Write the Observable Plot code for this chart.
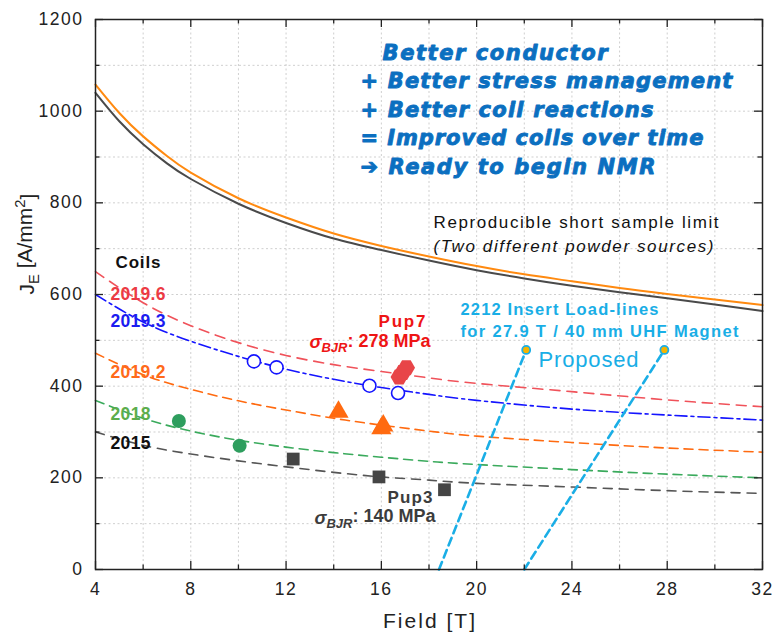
<!DOCTYPE html>
<html><head><meta charset="utf-8">
<script src="https://cdn.jsdelivr.net/npm/d3@7"></script>
<script src="https://cdn.jsdelivr.net/npm/@observablehq/plot@0.6"></script>
<style>body{margin:0;background:#fff}#chart{width:779px;height:632px}</style>
</head><body><div id="chart"></div>
<script>
// ---- data ----
const sslField = [4,5,6,7,8,10,12,14,16,18,20,22,24,26,28,30,32];
const sslOrange = [1058,996,945,902,866,810,768,733,706,683,662,644,629,614,601,589,577];
const sslGray   = [1040,978,928,886,852,798,756,722,697,674,653,635,619,605,592,578,564];

const fitField = [4,6,8,10,12,14,16,18,20,24,28,32];
const fit2019_6 = [650,582,532,495,467,447,432,418,406,388,370,355];
const fit2019_3 = [600,540,498,465,437,415,397,382,369,350,337,326];
const fit2019_2 = [472,425,393,368,348,330,315,302,291,277,265,256];
const fit2018   = [369,330,302,282,267,255,245,236,229,218,208,200];
const fit2015   = [300,271,252,237,224,212,202,195,188,180,172,166];

const coil2019_6_B = [16.75,16.9,17.05], coil2019_6_J = [420,430,440];
const coil2019_3_B = [10.65,11.6,15.5,16.7], coil2019_3_J = [454,441,401,385];
const coil2019_2_B = [14.2,16.0,16.08], coil2019_2_J = [344,308,314];
const coil2018_B = [7.5,10.05], coil2018_J = [324,270];
const coil2015_B = [12.3,15.9,18.65], coil2015_J = [241,202,174];

const loadLine1_B = [18.42,22.08], loadLine1_J = [0,479];
const loadLine2_B = [22.0,27.88], loadLine2_J = [0,479];

const xTickLabels = [4,8,12,16,20,24,28,32];
const xMinor = [6,10,14,18,22,26,30];
const yTickLabels = [0,200,400,600,800,1000,1200];
const yMinor = [100,300,500,700,900,1100];

const coilNames = ["2019.6","2019.3","2019.2","2018","2015"];
const claims = ["Better conductor","+ Better stress management","+ Better coil reactions","= Improved coils over time","\u2794 Ready to begin NMR"];

// ---- helpers ----
const pts = (Bs, Js, id) => Bs.map((b, i) => ({B: b, J: Js[i], id}));
const sans = "'Liberation Sans', Arial, sans-serif";

const loadData = [...pts(loadLine1_B, loadLine1_J, 1), ...pts(loadLine2_B, loadLine2_J, 2)];
const loadTops = loadData.filter(d => d.J > 0);

const coilLabelData = [
  {t: coilNames[0], B: 4.63, J: 588, c: "#ec3b44"},
  {t: coilNames[1], B: 4.63, J: 529, c: "#1c1cf0"},
  {t: coilNames[2], B: 4.63, J: 417, c: "#ff6a1a"},
  {t: coilNames[3], B: 4.63, J: 326, c: "#5cad4c"},
  {t: coilNames[4], B: 4.63, J: 264, c: "#111"}
];
const claimData = claims.map((t, i) => ({t, B: i === 0 ? 16.05 : 15.12, J: [1112,1050,988,926,864][i]}));

const widths = {
  "Better conductor": 225, "+ Better stress management": 372, "+ Better coil reactions": 293,
  "= Improved coils over time": 343, "\u2794 Ready to begin NMR": 295,
  "Reproducible short sample limit": 285, "(Two different powder sources)": 280,
  "2212 Insert Load-lines": 198, "for 27.9 T / 40 mm UHF Magnet": 278, "Proposed": 100,
  "Coils": 45, "2019.6": 55, "2019.3": 55, "2019.2": 55, "2018": 40, "2015": 40,
  "Pup7": 47, "Pup3": 45, "Field [T]": 92
};

const inner = {w: 779 - 95 - 17, h: 632 - 19 - 63};

const plot = Plot.plot({
  width: 779, height: 632,
  marginLeft: 95, marginRight: 17, marginTop: 19, marginBottom: 63,
  x: {domain: [4, 32], axis: null},
  y: {domain: [0, 1200], axis: null},
  style: {fontFamily: sans, background: "white", color: "#222"},
  marks: [
    // grid
    Plot.ruleX([...xMinor, ...xTickLabels.slice(1, -1)], {x: d => d, stroke: "#cfcfcf", strokeDasharray: "2,2.5"}),
    Plot.ruleY([...yMinor, ...yTickLabels.slice(1, -1)], {y: d => d, stroke: "#cfcfcf", strokeDasharray: "2,2.5"}),
    // short sample limits
    Plot.line(pts(sslField, sslGray), {x: "B", y: "J", stroke: "#4a4a4a", strokeWidth: 2, curve: "natural"}),
    Plot.line(pts(sslField, sslOrange), {x: "B", y: "J", stroke: "#ff8a10", strokeWidth: 2, curve: "natural"}),
    // coil fits
    Plot.line(pts(fitField, fit2015), {x: "B", y: "J", stroke: "#555", strokeWidth: 1.6, strokeDasharray: "9,7", curve: "natural"}),
    Plot.line(pts(fitField, fit2018), {x: "B", y: "J", stroke: "#3aaa5c", strokeWidth: 1.6, strokeDasharray: "9,6", curve: "natural"}),
    Plot.line(pts(fitField, fit2019_2), {x: "B", y: "J", stroke: "#ff6a10", strokeWidth: 1.6, strokeDasharray: "9,6", curve: "natural"}),
    Plot.line(pts(fitField, fit2019_3), {x: "B", y: "J", stroke: "#1414ff", strokeWidth: 1.6, strokeDasharray: "12,4,3,4", curve: "natural"}),
    Plot.line(pts(fitField, fit2019_6), {x: "B", y: "J", stroke: "#f0525a", strokeWidth: 1.6, strokeDasharray: "10,7", curve: "natural"}),
    // load lines
    Plot.line(loadData, {x: "B", y: "J", z: "id", stroke: "#1aaee6", strokeWidth: 2.6, strokeDasharray: "8,5"}),
    Plot.dot(loadTops, {x: "B", y: "J", r: 4, fill: "#f5b400", stroke: "#1aaee6", strokeWidth: 1.8}),
    // coil data
    Plot.dot(pts(coil2015_B, coil2015_J), {x: "B", y: "J", symbol: "square", r: 7.2, fill: "#454545"}),
    Plot.dot(pts(coil2018_B, coil2018_J), {x: "B", y: "J", r: 7, fill: "#2e9e5e"}),
    Plot.dot(pts(coil2019_2_B, coil2019_2_J), {x: "B", y: "J", symbol: "triangle", r: 7.5, fill: "#ff6a10"}),
    Plot.dot(pts(coil2019_3_B, coil2019_3_J), {x: "B", y: "J", r: 6.5, fill: "white", stroke: "#1414ff", strokeWidth: 1.6}),
    Plot.dot(pts(coil2019_6_B, coil2019_6_J), {x: "B", y: "J", symbol: "hexagon", r: 7.5, fill: "#e84548", rotate: 30}),
    // annotations
    Plot.text(claimData, {x: "B", y: "J", text: "t", textAnchor: "start", lineAnchor: "bottom", fill: "#0b6fc0",
      stroke: "#0b6fc0", strokeWidth: 0.9,
      fontFamily: "'DejaVu Sans', sans-serif", fontWeight: "bold", fontStyle: "italic", fontSize: 21}),
    Plot.text(["Reproducible short sample limit"], {x: 18.19, y: 745, textAnchor: "start", lineAnchor: "bottom", fill: "#111", fontSize: 17}),
    Plot.text(["(Two different powder sources)"], {x: 18.19, y: 693, textAnchor: "start", lineAnchor: "bottom", fill: "#111", fontSize: 17, fontStyle: "italic"}),
    Plot.text(["Coils"], {x: 4.84, y: 658, textAnchor: "start", lineAnchor: "bottom", fill: "#111", fontSize: 17, fontWeight: "bold"}),
    Plot.text(coilLabelData, {x: "B", y: "J", text: "t", fill: "c", textAnchor: "start", lineAnchor: "bottom", fontSize: 17.5, fontWeight: "bold"}),
    Plot.text(["Pup7"], {x: 15.88, y: 529, textAnchor: "start", lineAnchor: "bottom", fill: "#ee1515", fontSize: 17, fontWeight: "bold"}),
    Plot.text(["\u03c3BJR: 278 MPa"], {x: 18.06, y: 483, textAnchor: "end", lineAnchor: "bottom", fill: "#ee1515", fontSize: 18, fontWeight: "bold"}),
    Plot.text(["Pup3"], {x: 16.26, y: 146, textAnchor: "start", lineAnchor: "bottom", fill: "#3c3c3c", fontSize: 17, fontWeight: "bold"}),
    Plot.text(["\u03c3BJR: 140 MPa"], {x: 18.27, y: 100, textAnchor: "end", lineAnchor: "bottom", fill: "#3c3c3c", fontSize: 18, fontWeight: "bold"}),
    Plot.text(["2212 Insert Load-lines"], {x: 19.32, y: 555, textAnchor: "start", lineAnchor: "bottom", fill: "#19aee6", fontSize: 16.5, fontWeight: "bold"}),
    Plot.text(["for 27.9 T / 40 mm UHF Magnet"], {x: 19.32, y: 507, textAnchor: "start", lineAnchor: "bottom", fill: "#19aee6", fontSize: 16.5, fontWeight: "bold"}),
    Plot.text(["Proposed"], {x: 22.6, y: 441, textAnchor: "start", lineAnchor: "bottom", fill: "#19aee6", fontSize: 22}),
    // axis tick labels
    Plot.text(xTickLabels, {x: d => d, text: d => String(d), frameAnchor: "bottom", lineAnchor: "top", dy: 13, fontSize: 17.5, fill: "#222"}),
    Plot.text(yTickLabels, {y: d => d, text: d => String(d), frameAnchor: "left", textAnchor: "end", dx: -12, fontSize: 17.5, fill: "#222"}),
    // axis titles
    Plot.text(["Field [T]"], {frameAnchor: "bottom", lineAnchor: "bottom", dy: 58, fontSize: 21, fill: "#222"}),
    Plot.text(["JE [A/mm2]"], {frameAnchor: "left", rotate: -90, dx: -68, fontSize: 21, fill: "#222"}),
    // frame and inward ticks
    Plot.frame({stroke: "#222", strokeWidth: 1.5}),
    Plot.tickX(xTickLabels, {x: d => d, insetTop: inner.h - 8, stroke: "#222", strokeWidth: 1.3}),
    Plot.tickX(xTickLabels, {x: d => d, insetBottom: inner.h - 8, stroke: "#222", strokeWidth: 1.3}),
    Plot.tickX(xMinor, {x: d => d, insetTop: inner.h - 4.5, stroke: "#222", strokeWidth: 1.3}),
    Plot.tickX(xMinor, {x: d => d, insetBottom: inner.h - 4.5, stroke: "#222", strokeWidth: 1.3}),
    Plot.tickY(yTickLabels, {y: d => d, insetRight: inner.w - 8, stroke: "#222", strokeWidth: 1.3}),
    Plot.tickY(yTickLabels, {y: d => d, insetLeft: inner.w - 8, stroke: "#222", strokeWidth: 1.3}),
    Plot.tickY(yMinor, {y: d => d, insetRight: inner.w - 4.5, stroke: "#222", strokeWidth: 1.3}),
    Plot.tickY(yMinor, {y: d => d, insetLeft: inner.w - 4.5, stroke: "#222", strokeWidth: 1.3})
  ]
});

// ---- typographic post-processing (widths, sub/superscripts) ----
d3.select(plot).selectAll("text").each(function () {
  const el = d3.select(this);
  const s = this.textContent;
  if (widths[s] !== undefined) {
    el.attr("textLength", widths[s]).attr("lengthAdjust", "spacing");
  } else if (s.startsWith("\u03c3BJR")) {
    const rest = s.slice(4);
    el.text(null);
    el.append("tspan").attr("font-style", "italic").text("\u03c3");
    el.append("tspan").attr("font-style", "italic").attr("font-size", "0.72em").attr("dy", "0.3em").text("BJR");
    el.append("tspan").attr("dy", "-0.3em").text(rest);
  } else if (s === "JE [A/mm2]") {
    el.text(null);
    el.append("tspan").text("J");
    el.append("tspan").attr("font-size", "0.7em").attr("dy", "0.3em").text("E");
    el.append("tspan").attr("dy", "-0.3em").text(" [A/mm");
    el.append("tspan").attr("font-size", "0.7em").attr("dy", "-0.5em").text("2");
    el.append("tspan").attr("dy", "0.5em").text("]");
  } else if (/^\d+$/.test(s)) {
    el.style("letter-spacing", "1.5px");
  }
});

document.getElementById("chart").appendChild(plot);
</script>
</body></html>
